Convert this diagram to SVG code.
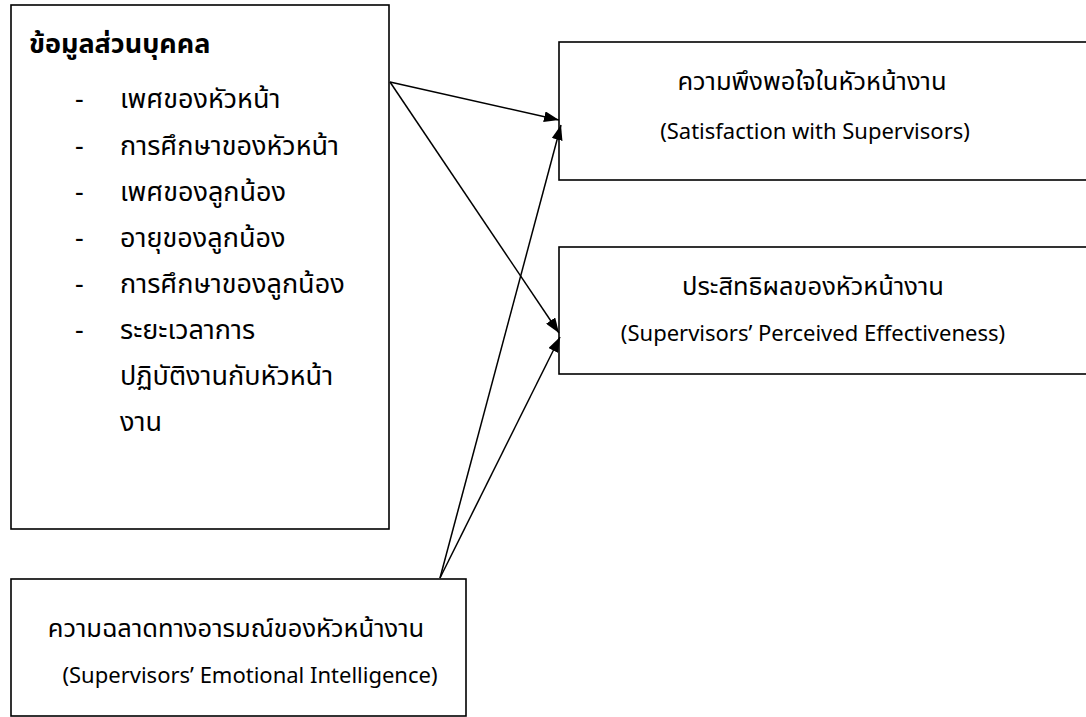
<svg xmlns="http://www.w3.org/2000/svg" width="1086" height="717" viewBox="0 0 1086 717">
<style>
.box{fill:#fff;stroke:#000;stroke-width:1.6}
text{font-family:"Noto Sans Thai","Noto Sans","DejaVu Sans",sans-serif;font-size:27px;fill:#000}
.b{font-weight:bold;font-size:27px}
.c{text-anchor:middle}
.t{font-size:25.5px}
.e{font-size:22px}
.edge{stroke:#000;stroke-width:1.5;fill:none;marker-end:url(#ah)}
</style>
<defs>
<marker id="ah" viewBox="0 0 15 11" refX="15" refY="5.5" markerWidth="15" markerHeight="11" markerUnits="userSpaceOnUse" orient="auto">
<path d="M0,0 L15,5.5 L0,11 z" fill="#000"/>
</marker>
</defs>
<g id="personal">
<rect class="box" x="11" y="5" width="378" height="524"/>
<text class="b" x="29" y="53">ข้อมูลส่วนบุคคล</text>
<text x="75" y="108">-</text><text x="120" y="108">เพศของหัวหน้า</text>
<text x="75" y="155">-</text><text x="120" y="155">การศึกษาของหัวหน้า</text>
<text x="75" y="201">-</text><text x="120" y="201">เพศของลูกน้อง</text>
<text x="75" y="247">-</text><text x="120" y="247">อายุของลูกน้อง</text>
<text x="75" y="293">-</text><text x="120" y="293">การศึกษาของลูกน้อง</text>
<text x="75" y="339">-</text><text x="120" y="339">ระยะเวลาการ</text>
<text x="120" y="385">ปฏิบัติงานกับหัวหน้า</text>
<text x="120" y="431">งาน</text>
</g>
<g id="satisfaction">
<rect class="box" x="559" y="42" width="540" height="138"/>
<text class="c t" x="812" y="90">ความพึงพอใจในหัวหน้างาน</text>
<text class="c e" x="815" y="139">(Satisfaction with Supervisors)</text>
</g>
<g id="effectiveness">
<rect class="box" x="559" y="247" width="540" height="127"/>
<text class="c t" x="813" y="295">ประสิทธิผลของหัวหน้างาน</text>
<text class="c e" x="813" y="341">(Supervisors’ Perceived Effectiveness)</text>
</g>
<g id="ei">
<rect class="box" x="11" y="579" width="455" height="137"/>
<text class="c t" x="236" y="637">ความฉลาดทางอารมณ์ของหัวหน้างาน</text>
<text class="c e" x="250" y="683">(Supervisors’ Emotional Intelligence)</text>
</g>
<g id="connectors">
<line class="edge" x1="390" y1="82" x2="559" y2="120"/>
<line class="edge" x1="390" y1="82" x2="559" y2="333"/>
<line class="edge" x1="440" y1="578" x2="561" y2="125"/>
<line class="edge" x1="440" y1="578" x2="560" y2="337"/>
</g>
</svg>
